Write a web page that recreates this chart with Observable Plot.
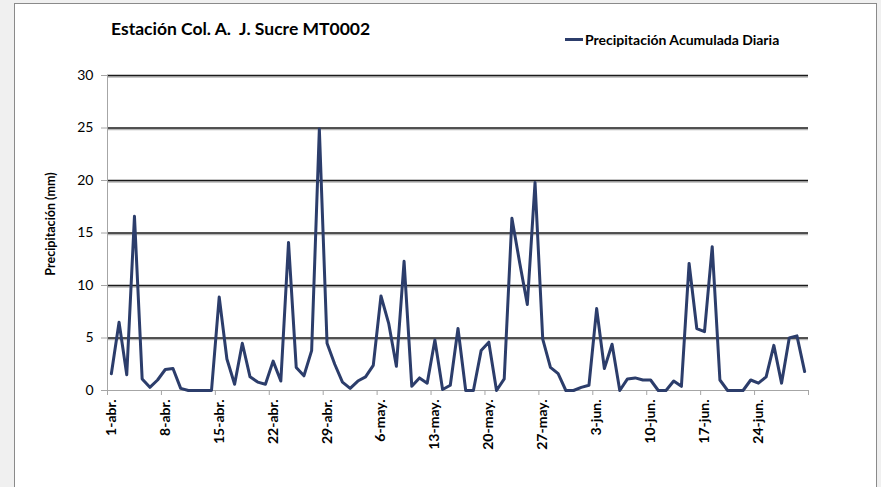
<!DOCTYPE html>
<html>
<head>
<meta charset="utf-8">
<script src="https://cdn.jsdelivr.net/npm/d3@7"></script>
<script src="https://cdn.jsdelivr.net/npm/@observablehq/plot@0.6"></script>
<style>
  html, body { margin: 0; padding: 0; width: 881px; height: 487px; overflow: hidden; background: #f0f0f0; font-family: Lato, "Open Sans", sans-serif; }
  #frame { position: absolute; left: 14px; top: 3px; width: 863px; height: 500px; background: #fff; border: 1px solid #8a8a8a; box-sizing: border-box; }
  #title { position: absolute; left: 111px; top: 18px; font-size: 17.5px; font-weight: bold; color: #000; white-space: pre; }
  #legend { position: absolute; left: 565px; top: 31px; font-size: 14px; font-weight: bold; color: #000; white-space: nowrap; display: flex; align-items: center; }
  #legend .sw { width: 18px; height: 3px; background: #2C3D6B; margin-right: 2px; }
  #ylabel { position: absolute; left: 50px; top: 224px; transform: translate(-50%, -50%) rotate(-90deg); font-size: 12.5px; font-weight: bold; white-space: nowrap; }
  #chart { position: absolute; left: 0; top: 60px; }
</style>
</head>
<body>
<div id="frame"></div>
<div id="title">Estación Col. A.  J. Sucre MT0002</div>
<div id="legend"><span class="sw"></span><span>Precipitación Acumulada Diaria</span></div>
<div id="ylabel">Precipitación (mm)</div>
<div id="chart"></div>
<script>
// Daily accumulated precipitation (mm), 1-abr. to 30-jun.
const values = [
  1.6, 6.5, 1.5, 16.6, 1.1, 0.3, 1.0, 2.0, 2.1, 0.2,
  0, 0, 0, 0, 8.9, 3.0, 0.6, 4.5, 1.3, 0.8,
  0.6, 2.8, 0.9, 14.1, 2.2, 1.4, 3.8, 24.9, 4.5, 2.5,
  0.8, 0.2, 0.9, 1.3, 2.4, 9.0, 6.4, 2.3, 12.3, 0.4,
  1.2, 0.7, 4.8, 0.1, 0.5, 5.9, 0, 0, 3.8, 4.6,
  0, 1.1, 16.4, 12.2, 8.2, 19.8, 4.9, 2.2, 1.6, 0,
  0, 0.3, 0.5, 7.8, 2.1, 4.4, 0, 1.1, 1.2, 1.0,
  1.0, 0, 0, 0.9, 0.4, 12.1, 5.9, 5.6, 13.7, 1.0,
  0, 0, 0, 1.0, 0.7, 1.3, 4.3, 0.7, 5.0, 5.2, 1.8
];
// category index of each tick label (days since 1-abr.)
const tickDays = [0, 7, 14, 21, 28, 35, 42, 49, 56, 63, 70, 77, 84];
const tickLabels = ["1-abr.", "8-abr.", "15-abr.", "22-abr.", "29-abr.", "6-may.", "13-may.", "20-may.", "27-may.", "3-jun.", "10-jun.", "17-jun.", "24-jun."];
const yTicks = [0, 5, 10, 15, 20, 25, 30];

const data = values.map((v, i) => ({ day: i, v }));
const n = values.length;
const boundaries = tickDays.map(d => d - 0.5).concat([n - 0.5]);
const grid = yTicks.filter(d => d > 0);

const chart = Plot.plot({
  width: 881,
  height: 427,
  marginLeft: 107,
  marginRight: 73,
  marginTop: 15,
  marginBottom: 97,
  style: { background: "transparent", fontFamily: "Lato, 'Open Sans', sans-serif", overflow: "visible" },
  x: { type: "linear", domain: [-0.5, n - 0.5], axis: null },
  y: { domain: [0, 30], axis: null },
  marks: [
    Plot.ruleY(grid, { stroke: "#b5b5b5", strokeWidth: 1.5, dy: 1.5 }),
    Plot.ruleY(grid, { stroke: "#1a1a1a", strokeWidth: 1.5 }),
    Plot.ruleY([0], { stroke: "#a6a6a6", strokeWidth: 1 }),
    Plot.ruleX([-0.5], { stroke: "#a6a6a6", strokeWidth: 1 }),
    Plot.axisY({ ticks: yTicks, tickSize: 6, tickPadding: 8, fontSize: 14, stroke: "#a6a6a6", label: null }),
    Plot.axisX({ ticks: boundaries, tickSize: 5, tickFormat: () => "", stroke: "#a6a6a6", label: null }),
    Plot.axisX({ ticks: tickDays, tickFormat: d => tickLabels[tickDays.indexOf(d)], tickRotate: -90, tickSize: 0, tickPadding: 9, fontSize: 14, fontWeight: "bold", label: null }),
    Plot.line(data, { x: "day", y: "v", stroke: "#2C3D6B", strokeWidth: 3 })
  ]
});
document.getElementById("chart").appendChild(chart);
</script>
</body>
</html>
